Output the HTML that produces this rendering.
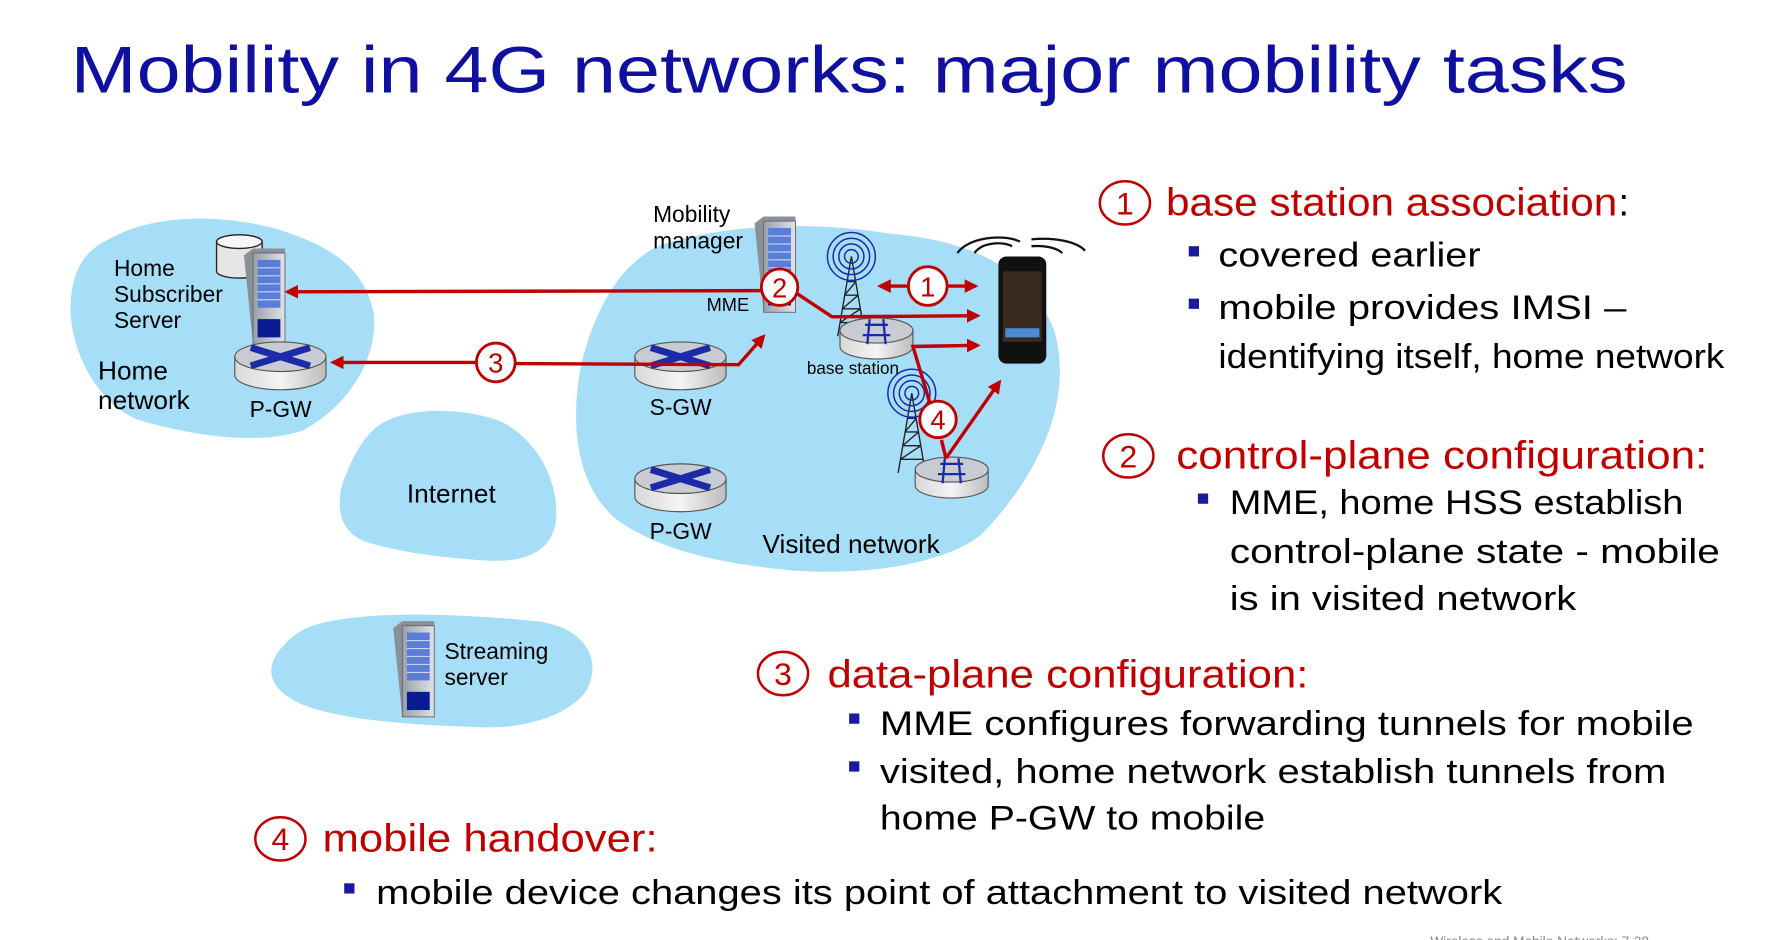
<!DOCTYPE html>
<html><head><meta charset="utf-8"><style>
html,body{margin:0;padding:0;background:#fff;}
svg{display:block;}
text{font-family:"Liberation Sans",sans-serif;}
</style></head><body>
<svg width="1778" height="940" viewBox="0 0 1560 824.75" xmlns="http://www.w3.org/2000/svg">
<defs>
<marker id="ah" viewBox="0 0 10 10" refX="8" refY="5" markerWidth="4" markerHeight="4" orient="auto-start-reverse">
<path d="M0,0 L10,5 L0,10 z" fill="#c00000"/></marker>
<linearGradient id="rg" x1="0" x2="1"><stop offset="0" stop-color="#d8d8d8"/><stop offset="0.5" stop-color="#f4f4f4"/><stop offset="1" stop-color="#bcbcbc"/></linearGradient>
<linearGradient id="sg" x1="0" x2="1"><stop offset="0" stop-color="#9aa0a8"/><stop offset="1" stop-color="#e0e4e8"/></linearGradient>
<g id="router">
<path d="M-40,0 v16 a40,13 0 0 0 80,0 v-16" fill="url(#rg)" stroke="#555" stroke-width="1"/>
<ellipse cx="0" cy="0" rx="40" ry="13" fill="#c8ccd2" stroke="#555" stroke-width="1"/>
<path d="M-26,-8 L26,8 M-26,8 L26,-8" stroke="#1a2aa8" stroke-width="6"/>
</g>
<g id="server">
<path d="M0,6 L8,0 L36,0 L36,78 L8,84 Z" fill="#8a9098"/>
<rect x="8" y="4" width="28" height="80" fill="url(#sg)" stroke="#666" stroke-width="0.8"/>
<rect x="12" y="10" width="20" height="42" fill="#5a7ed8"/>
<path d="M12,17 h20 M12,24 h20 M12,31 h20 M12,38 h20 M12,45 h20" stroke="#c8d4f0" stroke-width="1"/>
<rect x="12" y="62" width="20" height="16" fill="#0a1a90"/>
</g>
<g id="tower">
<path d="M0,0 L-12,70 M0,0 L12,70 M-10,58 L10,58 M-8,46 L8,46 M-6,34 L6,34 M-4,22 L4,22 M-10,58 L8,46 M-8,46 L6,34 M-6,34 L4,22" stroke="#222" stroke-width="1.2" fill="none"/>
<g fill="none" stroke="#1a2aa8" stroke-width="1.3">
<ellipse cx="0" cy="0" rx="6" ry="6"/><ellipse cx="0" cy="0" rx="11" ry="11"/><ellipse cx="0" cy="0" rx="16" ry="16"/><ellipse cx="0" cy="0" rx="21" ry="21"/>
</g>
</g>
<g id="bs">
<path d="M-32,0 v14 a32,11 0 0 0 64,0 v-14" fill="url(#rg)" stroke="#555" stroke-width="1"/>
<ellipse cx="0" cy="0" rx="32" ry="11" fill="#c8ccd2" stroke="#555" stroke-width="1"/>
<path d="M-6,-10 L-8,12 M6,-10 L8,12 M-10,-5 h20 M-12,4 h24" stroke="#1a2aa8" stroke-width="2" fill="none"/>
</g>
</defs>

<text x="62" y="81" font-size="58" fill="#1010a0" textLength="1366" lengthAdjust="spacingAndGlyphs">Mobility in 4G networks: major mobility tasks</text>

<g fill="#a6def8">
<path d="M95,210 C140,185 200,190 240,200 C290,215 320,235 328,275 C332,320 300,360 265,378 C220,392 160,380 120,368 C80,350 60,300 62,265 C64,235 75,220 95,210 Z"/>
<path d="M330,375 C355,355 410,358 440,370 C470,385 490,420 488,455 C485,485 460,493 430,492 C395,490 350,485 320,475 C295,465 295,440 302,420 C310,400 318,385 330,375 Z"/>
<path d="M580,215 C640,195 720,195 780,205 C840,210 900,228 925,290 C945,360 900,430 860,470 C820,500 740,505 690,500 C640,495 580,485 540,455 C505,425 500,370 510,320 C522,270 545,230 580,215 Z"/>
<path d="M290,545 C340,535 420,540 470,545 C515,550 528,580 515,605 C500,628 460,640 420,638 C360,636 300,632 265,618 C235,605 230,585 250,565 C262,552 275,548 290,545 Z"/>
</g>

<path d="M190,212 v26 a20,6 0 0 0 40,0 v-26" fill="#e6e6e6" stroke="#222" stroke-width="1.2"/>
<ellipse cx="210" cy="212" rx="20" ry="6" fill="#f6f6f6" stroke="#222" stroke-width="1.2"/>
<use href="#server" x="214" y="218"/>
<use href="#router" x="246" y="313"/>
<use href="#router" x="597" y="313"/>
<use href="#router" x="597" y="420"/>
<use href="#server" x="662" y="190"/>
<use href="#server" x="345" y="545"/>
<use href="#tower" x="747" y="225"/>
<use href="#bs" x="769" y="290"/>
<use href="#tower" x="800" y="345"/>
<use href="#bs" x="835" y="412"/>

<g fill="none" stroke="#111" stroke-width="2">
<path d="M840,222 C850,208 880,205 895,212"/><path d="M855,222 C862,212 880,212 888,216"/>
<path d="M905,210 C925,208 945,212 952,220"/><path d="M905,216 C918,215 928,218 932,222"/>
</g>
<rect x="876" y="225" width="42" height="94" rx="7" fill="#111"/>
<rect x="880" y="238" width="34" height="62" fill="#3a2a20"/>
<rect x="882" y="288" width="30" height="8" fill="#4a8ad8"/>

<g stroke="#c00000" stroke-width="3" fill="none">
<line x1="668" y1="255" x2="252" y2="256" marker-end="url(#ah)"/>
<polyline points="697,256 730,278 858,277" marker-end="url(#ah)"/>
<line x1="796" y1="251" x2="772" y2="251" marker-end="url(#ah)"/>
<line x1="832" y1="251" x2="856" y2="251" marker-end="url(#ah)"/>
<line x1="418" y1="318" x2="292" y2="318" marker-end="url(#ah)"/>
<polyline points="452,319 648,320 670,295" marker-end="url(#ah)"/>
<polyline points="816,354 801,304 858,303" marker-end="url(#ah)"/>
<line x1="826" y1="386" x2="830" y2="402"/>
<line x1="830" y1="402" x2="877" y2="335" marker-end="url(#ah)"/>
</g>
<g fill="#fff" stroke="#c00000" stroke-width="2.5">
<circle cx="684" cy="252" r="16"/><circle cx="814" cy="251" r="17"/><circle cx="435" cy="318" r="17"/><circle cx="823" cy="368" r="16"/>
</g>
<g fill="#c00000" font-size="24" text-anchor="middle">
<text x="684" y="261">2</text><text x="814" y="260">1</text><text x="435" y="327">3</text><text x="823" y="377">4</text>
</g>

<g fill="#000">
<text x="573" y="195" font-size="20">Mobility</text>
<text x="573" y="218" font-size="20">manager</text>
<text x="620" y="273" font-size="16">MME</text>
<text x="100" y="242" font-size="20">Home</text>
<text x="100" y="265" font-size="20">Subscriber</text>
<text x="100" y="288" font-size="20">Server</text>
<text x="86" y="333" font-size="23">Home</text>
<text x="86" y="359" font-size="23">network</text>
<text x="219" y="366" font-size="20">P-GW</text>
<text x="570" y="364" font-size="20">S-GW</text>
<text x="570" y="473" font-size="20">P-GW</text>
<text x="357" y="441" font-size="23">Internet</text>
<text x="669" y="485" font-size="23">Visited network</text>
<text x="708" y="328" font-size="15">base station</text>
<text x="390" y="578" font-size="20">Streaming</text>
<text x="390" y="601" font-size="20">server</text>
</g>

<g fill="none" stroke="#c00000" stroke-width="2.2">
<ellipse cx="987" cy="178" rx="22" ry="19"/><ellipse cx="990" cy="400" rx="22" ry="19"/>
<ellipse cx="687" cy="591" rx="22" ry="19"/><ellipse cx="246" cy="736" rx="22" ry="19"/>
</g>
<g fill="#c00000" font-size="28" text-anchor="middle">
<text x="987" y="188">1</text><text x="990" y="410">2</text><text x="687" y="601">3</text><text x="246" y="746">4</text>
</g>
<g fill="#c00000" font-size="34">
<text x="1023" y="189" textLength="396" lengthAdjust="spacingAndGlyphs">base station association</text>
<text x="1032" y="411" textLength="466" lengthAdjust="spacingAndGlyphs">control-plane configuration:</text>
<text x="726" y="603" textLength="422" lengthAdjust="spacingAndGlyphs">data-plane configuration:</text>
<text x="283" y="747" textLength="294" lengthAdjust="spacingAndGlyphs">mobile handover:</text>
</g>
<text x="1420" y="189" font-size="34" fill="#000">:</text>
<g fill="#1a1aa0">
<rect x="1043" y="216" width="9" height="9"/><rect x="1043" y="262" width="9" height="9"/>
<rect x="1051" y="433" width="9" height="9"/>
<rect x="745" y="626" width="9" height="9"/><rect x="745" y="668" width="9" height="9"/>
<rect x="302" y="775" width="9" height="9"/>
</g>
<g fill="#000" font-size="30">
<text x="1069" y="234" textLength="230" lengthAdjust="spacingAndGlyphs">covered earlier</text>
<text x="1069" y="280" textLength="358" lengthAdjust="spacingAndGlyphs">mobile  provides IMSI –</text>
<text x="1069" y="323" textLength="444" lengthAdjust="spacingAndGlyphs">identifying itself, home network</text>
<text x="1079" y="451" textLength="398" lengthAdjust="spacingAndGlyphs">MME, home HSS establish</text>
<text x="1079" y="494" textLength="430" lengthAdjust="spacingAndGlyphs">control-plane state -  mobile</text>
<text x="1079" y="535" textLength="304" lengthAdjust="spacingAndGlyphs">is in visited network</text>
<text x="772" y="645" textLength="714" lengthAdjust="spacingAndGlyphs">MME configures forwarding tunnels for mobile</text>
<text x="772" y="687" textLength="690" lengthAdjust="spacingAndGlyphs">visited, home network establish tunnels from</text>
<text x="772" y="728" textLength="338" lengthAdjust="spacingAndGlyphs">home P-GW to mobile</text>
<text x="330" y="793" textLength="988" lengthAdjust="spacingAndGlyphs">mobile device changes its point of attachment to visited network</text>
</g>
<text x="1255" y="830" font-size="12" fill="#888">Wireless and Mobile Networks: 7-38</text>
</svg>
</body></html>
